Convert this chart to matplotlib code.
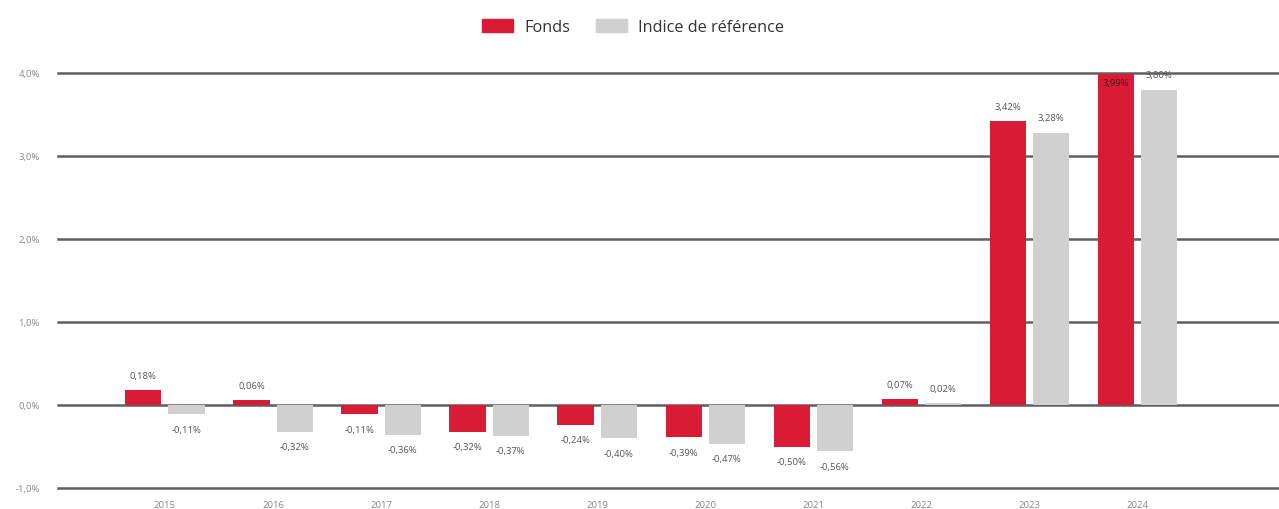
import numpy as np
import matplotlib.pyplot as plt
from matplotlib.patches import Patch

plt.rcParams['font.family'] = ['Open Sans', 'DejaVu Sans']

# Performances annuelles (%)
annees = ['2015', '2016', '2017', '2018', '2019', '2020', '2021', '2022', '2023', '2024']
fonds = [0.18, 0.06, -0.11, -0.32, -0.24, -0.39, -0.50, 0.07, 3.42, 3.99]
indice = [-0.11, -0.32, -0.36, -0.37, -0.40, -0.47, -0.56, 0.02, 3.28, 3.80]

ROUGE = '#DA1B36'
GRIS = '#D0D0D0'
Y_MIN, Y_MAX = -1.0, 4.0


def fmt_pct(v):
    return f"{v:.2f}%".replace('.', ',')


def annoter(ax, barres, valeurs):
    for bar, v in zip(barres, valeurs):
        cx = bar.get_x() + bar.get_width() / 2
        if v >= 0:
            y = v + 0.18
            if y > Y_MAX:
                # pas de place au-dessus : on écrit dans la barre
                ax.text(cx, v - 0.11, fmt_pct(v), ha='center', va='center',
                        fontsize=6.8, color='#3a1a1a')
                continue
        else:
            y = v - 0.18
        ax.text(cx, y, fmt_pct(v), ha='center', va='center',
                fontsize=6.8, color='#555555')


fig = plt.figure(figsize=(12.79, 5.10), dpi=100)
ax = fig.add_axes([58 / 1279, 21 / 510, 1 - 58 / 1279, (489 - 74) / 510])

x = np.arange(len(annees))
largeur = 0.335
decalage = 0.2

b1 = ax.bar(x - decalage, fonds, largeur, color=ROUGE, zorder=3)
b2 = ax.bar(x + decalage, indice, largeur, color=GRIS, zorder=3)
annoter(ax, b1, fonds)
annoter(ax, b2, indice)

ax.set_xlim(-0.99, 10.31)
ax.set_ylim(Y_MIN, Y_MAX)
yticks = np.arange(-1.0, 4.01, 1.0)
ax.set_yticks(yticks)
ax.set_yticklabels([f"{t:.1f}%".replace('.', ',') for t in yticks],
                   fontsize=6.8, color='#888888')
ax.set_xticks(x)
ax.set_xticklabels(annees, fontsize=6.8, color='#888888')
ax.tick_params(axis='both', length=0)
ax.tick_params(axis='y', pad=13)
ax.tick_params(axis='x', pad=9)

ax.grid(axis='y', color='#5f5f5f', linewidth=1.8, zorder=0)
ax.set_axisbelow(True)
# les lignes du haut et du bas ne doivent pas être coupées par le cadre
for ligne in ax.get_ygridlines():
    ligne.set_clip_on(False)
for s in ax.spines.values():
    s.set_visible(False)

handles = [Patch(color=ROUGE, label='Fonds'), Patch(color=GRIS, label='Indice de référence')]
fig.legend(handles=handles, loc='center', bbox_to_anchor=(633 / 1279, 1 - 28 / 510),
           ncol=2, frameon=False, fontsize=11.7, handlelength=1.9, handleheight=0.8,
           columnspacing=1.6, handletextpad=0.7, labelcolor='#333333')

fig.savefig('out.png', dpi=100)
